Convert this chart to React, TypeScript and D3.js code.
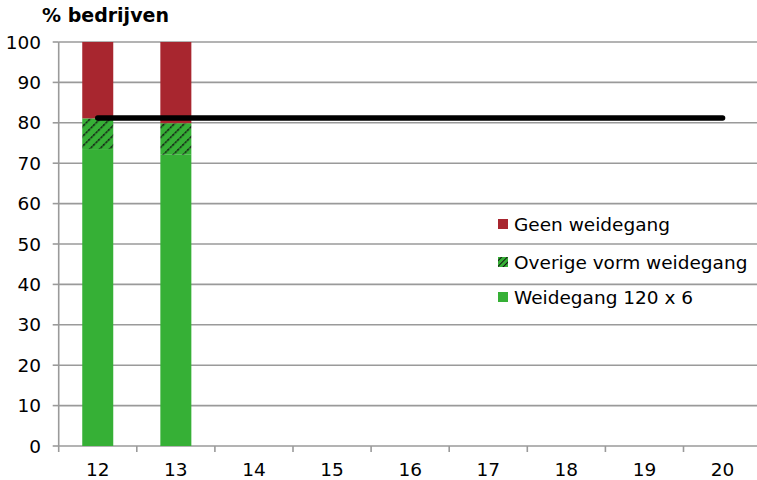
import React from "react";
import * as d3 from "d3";

const categories = ["12", "13", "14", "15", "16", "17", "18", "19", "20"];
const weidegang120x6 = [73.5, 72.1, null, null, null, null, null, null, null];
const overigeVorm = [7.6, 7.8, null, null, null, null, null, null, null];
const geenWeidegang = [18.9, 20.1, null, null, null, null, null, null, null];
const referenceLine = [81.2, 81.2, 81.2, 81.2, 81.2, 81.2, 81.2, 81.2, 81.2];
const yTicks = [0, 10, 20, 30, 40, 50, 60, 70, 80, 90, 100];
const legendLabels = ["Geen weidegang", "Overige vorm weidegang", "Weidegang 120 x 6"];

const W = 757;
const H = 480;
const left = 58.7;
const step = 78.1;
const top = 42;
const bottom = 446;
const FONT = "DejaVu Sans, Verdana, sans-serif";
const RED = "#A8262F";
const GREEN = "#36B036";
const GRID = "#9a9a9a";
const FS = 18.5;

export default function App() {
  const xb = d3.scaleBand<string>().domain(categories).range([left, left + step * categories.length]);
  const y = d3.scaleLinear().domain([0, 100]).range([bottom, top]);

  const bw = 31;
  const segs: { key: string; x: number; y0: number; y1: number; fill: string }[] = [];
  categories.forEach((c, i) => {
    const cx = (xb(c) as number) + xb.bandwidth() / 2;
    const g = weidegang120x6[i];
    const o = overigeVorm[i];
    const r = geenWeidegang[i];
    if (g == null) return;
    let base = 0;
    segs.push({ key: c + "g", x: cx - bw / 2, y0: base, y1: base + g, fill: GREEN });
    base += g;
    segs.push({ key: c + "o", x: cx - bw / 2, y0: base, y1: base + (o as number), fill: "url(#hatch)" });
    base += o as number;
    segs.push({ key: c + "r", x: cx - bw / 2, y0: base, y1: base + (r as number), fill: RED });
  });

  const line = d3
    .line<number>()
    .x((_, i) => (xb(categories[i]) as number) + xb.bandwidth() / 2)
    .y((d) => y(d));

  const legendY = [224, 262, 297];
  const legendFills = [RED, "url(#hatchSmall)", GREEN];

  return (
    <div style={{ position: "fixed", left: 0, top: 0, width: W, height: H, background: "#fff" }}>
      <svg width={W} height={H} style={{ display: "block" }}>
        <defs>
          <pattern id="hatch" patternUnits="userSpaceOnUse" width="7" height="7" patternTransform="rotate(45)">
            <rect width="7" height="7" fill={GREEN} />
            <line x1="0" y1="0" x2="0" y2="7" stroke="#111" strokeWidth="3" strokeDasharray="2.4 0.8" />
          </pattern>
          <pattern id="hatchSmall" patternUnits="userSpaceOnUse" width="4" height="4" patternTransform="rotate(45)">
            <rect width="4" height="4" fill={GREEN} />
            <line x1="0" y1="0" x2="0" y2="4" stroke="#111" strokeWidth="2" />
          </pattern>
        </defs>
        <text x={42} y={22} fontFamily={FONT} fontWeight="bold" fontSize={19} fill="#000">
          % bedrijven
        </text>
        {yTicks.map((t) => (
          <g key={t}>
            {t > 0 && (
              <line x1={left} x2={W} y1={y(t)} y2={y(t)} stroke={GRID} strokeWidth={1.6} />
            )}
            <line x1={left - 6} x2={left} y1={y(t)} y2={y(t)} stroke={GRID} strokeWidth={1.6} />
            <text x={41} y={y(t)} dy="0.36em" textAnchor="end" fontFamily={FONT} fontSize={FS} fill="#000">
              {t}
            </text>
          </g>
        ))}
        <line x1={left} x2={left} y1={top} y2={bottom} stroke={GRID} strokeWidth={1.6} />
        <line x1={left} x2={W} y1={bottom} y2={bottom} stroke={GRID} strokeWidth={1.6} />
        {categories.map((c) => (
          <g key={c}>
            <line
              x1={xb(c) as number}
              x2={xb(c) as number}
              y1={bottom}
              y2={bottom + 6}
              stroke={GRID}
              strokeWidth={1.6}
            />
            <text
              x={(xb(c) as number) + xb.bandwidth() / 2}
              y={476}
              textAnchor="middle"
              fontFamily={FONT}
              fontSize={FS}
              fill="#000"
            >
              {c}
            </text>
          </g>
        ))}
        {segs.map((s) => (
          <rect key={s.key} x={s.x} y={y(s.y1)} width={bw} height={y(s.y0) - y(s.y1)} fill={s.fill} />
        ))}
        <path d={line(referenceLine) as string} fill="none" stroke="#000" strokeWidth={5.5} strokeLinecap="round" />
        {legendLabels.map((l, i) => (
          <g key={l}>
            <rect x={498} y={legendY[i] - 5} width={10} height={10} fill={legendFills[i]} />
            <text x={514} y={legendY[i]} dy="0.36em" fontFamily={FONT} fontSize={FS} fill="#000">
              {l}
            </text>
          </g>
        ))}
      </svg>
    </div>
  );
}
